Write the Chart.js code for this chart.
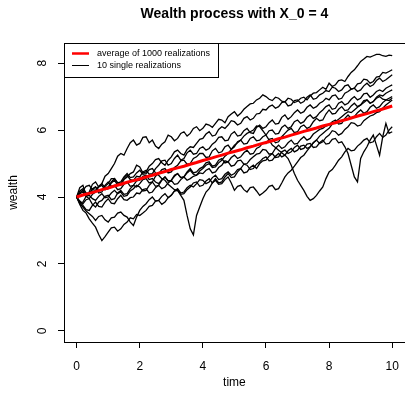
<!DOCTYPE html>
<html>
<head>
<meta charset="utf-8">
<script src="https://cdn.jsdelivr.net/npm/chart.js@4.4.1/dist/chart.umd.min.js"></script>
<style>
html,body{margin:0;padding:0;background:#fff;overflow:hidden;width:405px;height:398px;}
canvas{display:block;}
</style>
</head>
<body>
<canvas id="c" width="410" height="398" style="width:410px;height:398px"></canvas>
<script>
const chartTitle = "Wealth process with X_0 = 4";
const xTitle = "time";
const yTitle = "wealth";
const legendLabels = ["average of 1000 realizations", "10 single realizations"];
const xTicks = [0, 2, 4, 6, 8, 10];
const yTicks = [0, 2, 4, 6, 8];

const avgTimes = [0,0.2,0.4,0.6,0.8,1,1.2,1.4,1.6,1.8,
  2,2.2,2.4,2.6,2.8,3,3.2,3.4,3.6,3.8,
  4,4.2,4.4,4.6,4.8,5,5.2,5.4,5.6,5.8,
  6,6.2,6.4,6.6,6.8,7,7.2,7.4,7.6,7.8,
  8,8.2,8.4,8.6,8.8,9,9.2,9.4,9.6,9.8,
  10];

const avgWealth = [4.00,4.06,4.11,4.16,4.22,4.27,4.33,4.38,4.44,4.49,
  4.54,4.60,4.65,4.71,4.76,4.82,4.87,4.92,4.98,5.03,
  5.09,5.14,5.20,5.25,5.31,5.36,5.41,5.47,5.52,5.58,
  5.63,5.68,5.74,5.79,5.85,5.90,5.96,6.01,6.06,6.12,
  6.17,6.22,6.28,6.33,6.39,6.44,6.49,6.55,6.60,6.66,
  6.72];

const pathTimes = [0,0.1,0.2,0.3,0.4,0.5,0.6,0.7,0.8,0.9,
  1,1.1,1.2,1.3,1.4,1.5,1.6,1.7,1.8,1.9,
  2,2.1,2.2,2.3,2.4,2.5,2.6,2.7,2.8,2.9,
  3,3.1,3.2,3.3,3.4,3.5,3.6,3.7,3.8,3.9,
  4,4.1,4.2,4.3,4.4,4.5,4.6,4.7,4.8,4.9,
  5,5.1,5.2,5.3,5.4,5.5,5.6,5.7,5.8,5.9,
  6,6.1,6.2,6.3,6.4,6.5,6.6,6.7,6.8,6.9,
  7,7.1,7.2,7.3,7.4,7.5,7.6,7.7,7.8,7.9,
  8,8.1,8.2,8.3,8.4,8.5,8.6,8.7,8.8,8.9,
  9,9.1,9.2,9.3,9.4,9.5,9.6,9.7,9.8,9.9,
  10];

const path1 = [4.00,4.28,4.35,4.05,4.15,4.38,4.45,4.30,4.40,4.62,
  4.70,4.85,5.00,5.22,5.30,5.25,5.45,5.62,5.70,5.55,
  5.60,5.78,5.80,5.62,5.70,5.52,5.45,5.58,5.65,5.85,
  5.80,5.68,5.75,5.90,5.95,5.82,5.90,6.05,6.10,5.98,
  6.05,6.18,6.15,6.08,6.20,6.32,6.30,6.22,6.40,6.48,
  6.55,6.42,6.50,6.62,6.70,6.78,6.80,6.90,6.95,7.05,
  7.00,6.92,6.88,6.98,6.95,6.86,6.84,6.95,6.92,6.82,
  6.86,6.95,6.98,6.90,7.02,7.10,7.12,7.20,7.28,7.22,
  7.40,7.30,7.35,7.48,7.50,7.45,7.60,7.72,7.80,7.92,
  8.05,8.12,8.20,8.18,8.22,8.26,8.26,8.22,8.20,8.24,
  8.22];
const path2 = [4.00,3.82,3.85,4.02,4.10,4.25,4.30,4.12,4.15,4.32,
  4.40,4.55,4.55,4.42,4.35,4.52,4.60,4.70,4.75,4.95,
  4.90,4.72,4.75,4.92,5.00,5.12,5.15,5.02,4.95,5.10,
  5.20,5.35,5.40,5.30,5.25,5.42,5.50,5.48,5.60,5.72,
  5.75,5.88,5.95,5.82,5.85,6.02,6.10,6.05,6.15,6.28,
  6.25,6.15,6.20,6.35,6.40,6.30,6.35,6.48,6.50,6.62,
  6.60,6.70,6.75,6.65,6.70,6.82,6.85,6.72,6.75,6.88,
  6.90,6.80,6.85,6.98,7.05,6.92,6.95,7.05,7.10,7.18,
  7.15,7.28,7.25,7.15,7.20,7.32,7.35,7.22,7.25,7.38,
  7.40,7.52,7.50,7.40,7.45,7.58,7.60,7.72,7.70,7.75,
  7.80];
const path3 = [4.00,4.12,4.20,4.02,3.95,4.08,4.15,4.30,4.35,4.22,
  4.25,4.42,4.50,4.35,4.40,4.55,4.65,4.52,4.50,4.62,
  4.60,4.75,4.80,4.68,4.70,4.85,4.95,5.08,5.10,4.95,
  5.00,5.15,5.25,5.10,5.15,5.32,5.40,5.28,5.30,5.45,
  5.50,5.40,5.45,5.58,5.65,5.78,5.80,5.68,5.70,5.88,
  5.95,5.82,5.85,5.98,6.05,5.92,5.90,6.08,6.15,6.05,
  6.10,6.22,6.30,6.18,6.20,6.38,6.45,6.32,6.40,6.52,
  6.60,6.50,6.55,6.68,6.75,6.65,6.70,6.80,6.85,6.95,
  6.90,7.02,7.05,6.92,6.95,7.10,7.15,7.22,7.25,7.15,
  7.20,7.32,7.40,7.30,7.35,7.48,7.55,7.45,7.50,7.58,
  7.65];
const path4 = [4.00,3.88,3.80,3.92,3.95,3.78,3.70,3.85,3.90,4.02,
  4.05,3.92,3.95,4.12,4.20,4.08,4.10,4.25,4.35,4.30,
  4.40,4.52,4.55,4.42,4.45,4.62,4.70,4.82,4.85,4.72,
  4.75,4.88,4.95,5.08,5.10,4.98,5.00,5.15,5.20,5.30,
  5.30,5.18,5.20,5.38,5.45,5.32,5.35,5.50,5.55,5.42,
  5.50,5.65,5.70,5.58,5.60,5.75,5.80,5.68,5.70,5.80,
  5.85,5.98,6.00,5.88,5.90,6.08,6.15,6.05,6.10,6.25,
  6.30,6.20,6.25,6.38,6.45,6.35,6.40,6.52,6.60,6.70,
  6.75,6.62,6.65,6.80,6.85,6.75,6.80,6.92,7.00,6.90,
  6.95,7.08,7.10,6.98,7.05,7.15,7.20,7.15,7.25,7.30,
  7.35];
const path5 = [4.00,4.10,4.15,4.02,4.05,3.95,3.90,4.02,4.10,3.98,
  4.00,4.12,4.20,4.10,4.15,4.02,4.05,4.18,4.25,4.35,
  4.30,4.18,4.20,4.35,4.45,4.32,4.35,4.50,4.60,4.48,
  4.50,4.65,4.70,4.58,4.60,4.75,4.85,4.72,4.75,4.85,
  4.90,5.02,5.05,4.92,4.95,5.10,5.15,5.02,5.05,5.18,
  5.25,5.15,5.20,5.32,5.40,5.28,5.30,5.45,5.50,5.62,
  5.60,5.72,5.75,5.62,5.65,5.80,5.90,6.00,6.05,5.92,
  5.95,6.10,6.15,6.05,6.10,6.25,6.35,6.28,6.30,6.48,
  6.60,6.48,6.50,6.62,6.70,6.58,6.60,6.72,6.80,6.70,
  6.75,6.88,6.90,6.80,6.85,6.95,7.00,6.92,6.90,6.88,
  6.95];
const path6 = [4.00,3.85,3.75,3.62,3.60,3.75,3.85,3.72,3.70,3.85,
  3.95,3.82,3.80,3.95,4.05,3.92,3.90,3.98,4.00,4.12,
  4.10,4.22,4.25,4.12,4.15,4.28,4.35,4.25,4.30,4.42,
  4.50,4.38,4.40,4.52,4.60,4.50,4.55,4.62,4.65,4.72,
  4.70,4.80,4.85,4.72,4.75,4.88,4.95,5.08,5.05,4.92,
  4.95,5.08,5.10,4.98,5.00,5.12,5.20,5.28,5.30,5.42,
  5.40,5.28,5.30,5.45,5.55,5.45,5.50,5.62,5.70,5.58,
  5.60,5.72,5.80,5.70,5.75,5.88,5.95,6.02,6.05,6.12,
  6.15,6.25,6.30,6.18,6.20,6.35,6.45,6.35,6.40,6.52,
  6.60,6.50,6.55,6.68,6.75,6.65,6.70,6.82,6.90,6.95,
  7.00];
const path7 = [4.00,3.82,3.70,3.58,3.50,3.42,3.30,3.42,3.45,3.32,
  3.25,3.38,3.40,3.52,3.55,3.45,3.40,3.25,3.15,3.40,
  3.60,3.72,3.80,3.92,4.00,3.88,3.90,4.02,4.10,3.98,
  4.05,4.18,4.25,4.12,4.15,4.28,4.35,4.30,4.40,4.52,
  4.50,4.40,4.45,4.58,4.65,4.52,4.55,4.68,4.75,4.65,
  4.70,4.82,4.85,4.98,4.95,4.82,4.85,4.98,5.05,5.15,
  5.20,5.08,5.10,5.22,5.30,5.20,5.25,5.38,5.45,5.35,
  5.40,5.52,5.55,5.45,5.50,5.62,5.70,5.60,5.65,5.78,
  5.85,5.98,5.95,5.85,5.90,6.02,6.10,6.22,6.20,6.12,
  6.15,6.28,6.35,6.42,6.45,6.52,6.55,6.65,6.75,6.82,
  6.90];
const path8 = [4.00,4.12,4.20,4.32,4.35,4.22,4.20,4.32,4.40,4.28,
  4.30,4.45,4.55,4.42,4.45,4.60,4.70,4.58,4.60,4.72,
  4.80,4.68,4.70,4.82,4.85,4.72,4.65,4.55,4.50,4.38,
  4.30,4.22,4.20,4.05,3.90,3.45,3.05,2.87,3.45,3.70,
  3.95,4.15,4.25,4.42,4.55,4.42,4.45,4.60,4.70,4.58,
  4.60,4.75,4.85,4.72,4.75,4.88,4.95,4.85,5.00,5.08,
  5.10,5.22,5.30,5.18,5.20,5.35,5.40,5.30,5.35,5.48,
  5.55,5.42,5.45,5.58,5.60,5.48,5.50,5.62,5.70,5.58,
  5.60,5.72,5.75,5.62,5.65,5.50,5.30,4.95,4.60,4.45,
  5.15,5.35,5.50,5.70,5.85,5.55,5.25,5.80,6.20,5.90,
  5.95];
const path9 = [4.00,4.18,4.25,4.12,4.10,4.22,4.30,4.18,4.20,4.35,
  4.45,4.32,4.35,4.22,4.25,4.38,4.45,4.32,4.35,4.48,
  4.50,4.62,4.65,4.52,4.55,4.45,4.40,4.52,4.60,4.48,
  4.50,4.62,4.70,4.58,4.60,4.72,4.80,4.68,4.65,4.78,
  4.85,4.95,5.00,4.88,4.90,5.02,5.10,5.22,5.30,5.42,
  5.55,5.62,5.70,5.82,5.90,5.95,6.00,6.12,6.10,5.98,
  5.85,5.70,5.55,5.48,5.40,5.32,5.25,5.15,4.95,4.70,
  4.50,4.35,4.20,4.02,3.90,3.95,4.05,4.18,4.30,4.55,
  4.75,4.82,4.95,5.10,5.20,5.35,5.45,5.38,5.40,5.52,
  5.60,5.70,5.75,5.62,5.65,5.80,5.90,5.78,5.85,6.00,
  6.10];
const path10 = [4.00,3.78,3.60,3.52,3.35,3.22,3.10,2.88,2.70,2.82,
  2.95,3.08,3.10,2.98,3.05,3.18,3.25,3.38,3.35,3.48,
  3.45,3.52,3.60,3.72,3.75,3.88,3.90,3.78,3.85,3.98,
  4.05,4.18,4.20,4.08,4.10,4.22,4.30,4.42,4.45,4.32,
  4.35,4.48,4.55,4.42,4.50,4.38,4.40,4.52,4.60,4.42,
  4.20,4.32,4.35,4.22,4.15,4.28,4.30,4.18,4.05,4.12,
  4.20,4.32,4.35,4.22,4.25,4.42,4.60,4.72,4.80,4.92,
  5.05,5.18,5.25,5.38,5.50,5.62,5.70,5.82,5.90,5.98,
  6.05,6.18,6.25,6.32,6.40,6.48,6.55,6.52,6.60,6.68,
  6.75,6.82,6.90,6.80,6.85,6.98,7.05,7.02,7.10,7.15,
  7.20];

const singlePaths = [path1, path2, path3, path4, path5, path6, path7, path8, path9, path10];

const FONT = "'Liberation Sans', Arial, Helvetica, sans-serif";

const toPoints = (ts, arr) => ts.map((t, i) => ({x: t, y: arr[i]}));

const datasets = [{
  label: legendLabels[0],
  data: toPoints(avgTimes, avgWealth),
  borderColor: '#ff0000',
  borderWidth: 3,
  pointRadius: 0,
  tension: 0
}].concat(singlePaths.map((p, k) => ({
  label: 'realization ' + (k + 1),
  data: toPoints(pathTimes, p),
  borderColor: '#000000',
  borderWidth: 1.3,
  pointRadius: 0,
  tension: 0
})));

const framePlugin = {
  id: 'rframe',
  afterDraw(chart) {
    const ctx = chart.ctx;
    const a = chart.chartArea;
    ctx.save();
    ctx.strokeStyle = '#000';
    ctx.lineWidth = 1;
    ctx.beginPath();
    ctx.moveTo(Math.round(a.left) + 0.5, Math.round(a.top) + 0.5);
    ctx.lineTo(Math.round(a.right) + 0.5, Math.round(a.top) + 0.5);
    ctx.lineTo(Math.round(a.right) + 0.5, Math.round(a.bottom) + 0.5);
    ctx.stroke();
    ctx.fillStyle = '#000';
    ctx.font = 'bold 14px ' + FONT;
    ctx.textAlign = 'center';
    ctx.textBaseline = 'middle';
    ctx.fillText(chartTitle, (a.left + a.right) / 2, 14);
    const lx = Math.round(a.left) + 0.5, ly = Math.round(a.top) + 0.5;
    const lw = 154, lh = 34;
    ctx.fillStyle = '#fff';
    ctx.fillRect(lx, ly, lw, lh);
    ctx.strokeStyle = '#000';
    ctx.lineWidth = 1;
    ctx.strokeRect(lx, ly, lw, lh);
    ctx.lineWidth = 2.5;
    ctx.strokeStyle = '#ff0000';
    ctx.beginPath(); ctx.moveTo(72, 53.5); ctx.lineTo(89, 53.5); ctx.stroke();
    ctx.lineWidth = 1;
    ctx.strokeStyle = '#000';
    ctx.beginPath(); ctx.moveTo(72, 65.5); ctx.lineTo(89, 65.5); ctx.stroke();
    ctx.fillStyle = '#000';
    ctx.font = '9px ' + FONT;
    ctx.textAlign = 'left';
    ctx.textBaseline = 'middle';
    ctx.fillText(legendLabels[0], 97, 53.5);
    ctx.fillText(legendLabels[1], 97, 66);
    ctx.restore();
  }
};

new Chart(document.getElementById('c'), {
  type: 'line',
  data: { datasets },
  options: {
    responsive: false,
    animation: false,
    devicePixelRatio: 1,
    layout: { padding: { top: 43, right: 3, bottom: 0, left: 0 } },
    plugins: { legend: { display: false }, title: { display: false }, tooltip: { enabled: false } },
    scales: {
      x: {
        type: 'linear',
        min: -0.4,
        max: 10.4,
        afterFit(s) { s.height = 56; },
        afterBuildTicks(s) { s.ticks = xTicks.map(v => ({ value: v })); },
        grid: { display: true, drawOnChartArea: false, drawTicks: true, tickLength: 6, color: '#000', lineWidth: 1 },
        border: { display: true, color: '#000', width: 1 },
        ticks: { color: '#000', font: { family: FONT, size: 12 }, padding: 11, maxRotation: 0, autoSkip: false },
        title: { display: true, text: xTitle, color: '#000', font: { family: FONT, size: 12 }, padding: { top: 0, bottom: 8 } }
      },
      y: {
        type: 'linear',
        min: -0.33,
        max: 8.6,
        afterFit(s) { s.width = 64; },
        afterBuildTicks(s) { s.ticks = yTicks.map(v => ({ value: v })); },
        grid: { display: true, drawOnChartArea: false, drawTicks: true, tickLength: 6, color: '#000', lineWidth: 1 },
        border: { display: true, color: '#000', width: 1 },
        ticks: { color: '#000', font: { family: FONT, size: 12 }, padding: 12, minRotation: 90, maxRotation: 90, crossAlign: 'center', autoSkip: false },
        title: { display: true, text: yTitle, color: '#000', font: { family: FONT, size: 12 }, padding: { top: 6, bottom: 0 } }
      }
    }
  },
  plugins: [framePlugin]
});
</script>
</body>
</html>
